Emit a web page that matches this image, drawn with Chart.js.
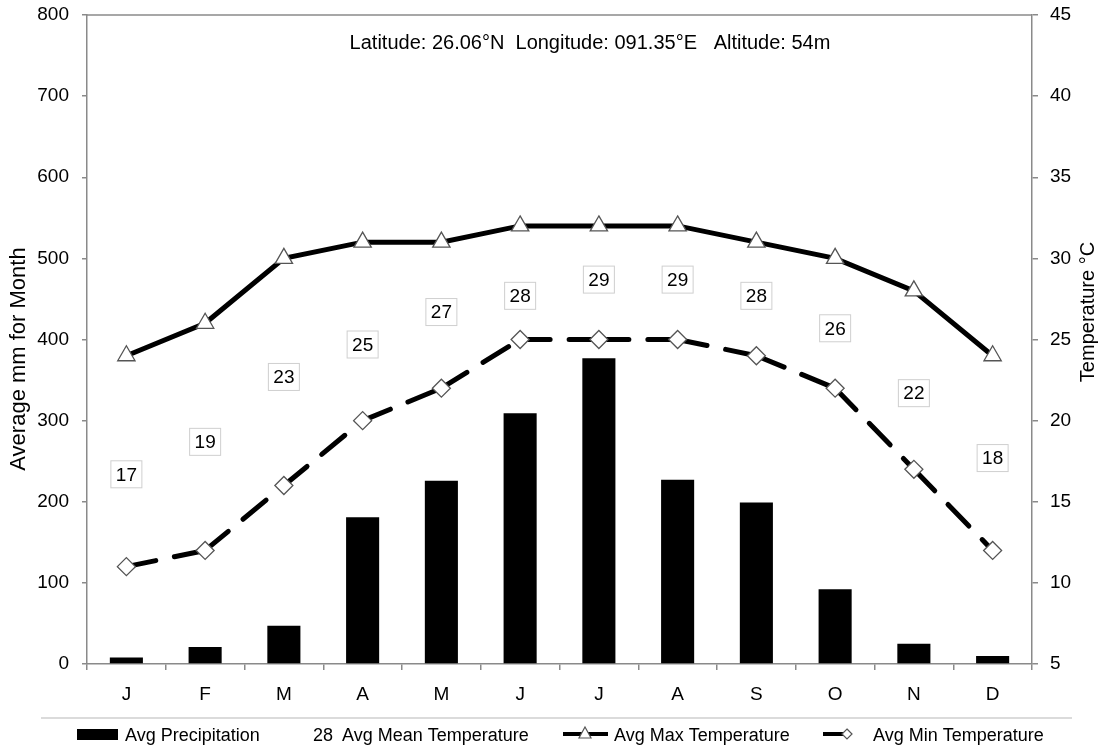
<!DOCTYPE html>
<html>
<head>
<meta charset="utf-8">
<script src="https://cdn.jsdelivr.net/npm/chart.js@4.4.1/dist/chart.umd.min.js"></script>
<style>
  html, body { margin: 0; padding: 0; background: #fff; }
  #wrap { position: relative; width: 1101px; height: 749px; }
</style>
</head>
<body>
<div id="wrap"><canvas id="climate"></canvas></div>
<script>
// ── Data ───────────────────────────────────────────────────
const months = ['J', 'F', 'M', 'A', 'M', 'J', 'J', 'A', 'S', 'O', 'N', 'D'];
const precip = [8, 21, 47, 181, 226, 309, 377, 227, 199, 92, 25, 10];
const maxTemp = [24, 26, 30, 31, 31, 32, 32, 32, 31, 30, 28, 24];
const minTemp = [11, 12, 16, 20, 22, 25, 25, 25, 24, 22, 17, 12];
const meanTemp = [17, 19, 23, 25, 27, 28, 29, 29, 28, 26, 22, 18];
const infoText = 'Latitude: 26.06°N  Longitude: 091.35°E   Altitude: 54m';

const FONT = '"Liberation Sans", Arial, sans-serif';
const AXIS = '#8a8a8a';
Chart.defaults.font.family = FONT;
Chart.defaults.font.size = 19;
Chart.defaults.color = '#000';

// ── Extras drawn on canvas: frame, mean boxes, titles, legend ──
const extras = {
  id: 'extras',
  beforeDatasetsDraw(chart) {
    const { ctx, chartArea: a } = chart;
    ctx.save();
    ctx.strokeStyle = AXIS;
    ctx.lineWidth = 1.5;
    ctx.beginPath();
    ctx.moveTo(a.left, a.top); ctx.lineTo(a.right, a.top);
    ctx.stroke();
    ctx.restore();
  },
  afterDatasetsDraw(chart) {
    const { ctx } = chart;
    const xs = chart.scales.x, yt = chart.scales.y2;
    ctx.save();
    ctx.textAlign = 'center';
    ctx.textBaseline = 'middle';

    // mean temperature boxes
    ctx.font = '19px ' + FONT;
    meanTemp.forEach((v, i) => {
      const x = xs.getPixelForValue(i);
      const y = yt.getPixelForValue(v) + 5;
      ctx.fillStyle = '#fff';
      ctx.fillRect(x - 16, y - 14, 32, 28);
      ctx.strokeStyle = '#cfcfcf';
      ctx.lineWidth = 1;
      ctx.strokeRect(x - 16 + 0.5, y - 14 + 0.5, 31, 27);
      ctx.fillStyle = '#000';
      ctx.fillText(String(v), x, y + 1);
    });

    // info line
    ctx.font = '20px ' + FONT;
    ctx.fillText(infoText, 590, 43);

    // axis titles
    ctx.save();
    ctx.font = '22px ' + FONT;
    ctx.translate(19, 359);
    ctx.rotate(-Math.PI / 2);
    ctx.fillText('Average mm for Month', 0, 0);
    ctx.restore();
    ctx.save();
    ctx.font = '20px ' + FONT;
    ctx.translate(1088, 312);
    ctx.rotate(-Math.PI / 2);
    ctx.fillText('Temperature °C', 0, 0);
    ctx.restore();

    // legend
    ctx.font = '18px ' + FONT;
    ctx.strokeStyle = '#cfcfcf';
    ctx.lineWidth = 1.5;
    ctx.beginPath();
    ctx.moveTo(41, 718); ctx.lineTo(1072, 718);
    ctx.stroke();

    const ly = 736;
    ctx.textAlign = 'left';
    ctx.fillStyle = '#000';
    ctx.fillRect(77, 729, 41, 11);
    ctx.fillText('Avg Precipitation', 125, ly);
    ctx.fillText('28', 313, ly);
    ctx.fillText('Avg Mean Temperature', 342, ly);

    ctx.strokeStyle = '#000';
    ctx.lineWidth = 4;
    ctx.beginPath(); ctx.moveTo(563, 734); ctx.lineTo(608, 734); ctx.stroke();
    ctx.beginPath();
    ctx.moveTo(585, 727); ctx.lineTo(591, 738); ctx.lineTo(579, 738); ctx.closePath();
    ctx.fillStyle = '#fff'; ctx.fill();
    ctx.strokeStyle = '#555'; ctx.lineWidth = 1.2; ctx.stroke();
    ctx.fillStyle = '#000';
    ctx.fillText('Avg Max Temperature', 614, ly);

    ctx.strokeStyle = '#000';
    ctx.lineWidth = 4;
    ctx.beginPath(); ctx.moveTo(823, 734); ctx.lineTo(845, 734); ctx.stroke();
    ctx.beginPath();
    ctx.moveTo(847, 729); ctx.lineTo(852, 734); ctx.lineTo(847, 739); ctx.lineTo(842, 734); ctx.closePath();
    ctx.fillStyle = '#fff'; ctx.fill();
    ctx.strokeStyle = '#555'; ctx.lineWidth = 1.2; ctx.stroke();
    ctx.fillStyle = '#000';
    ctx.fillText('Avg Min Temperature', 873, ly);
    ctx.restore();
  }
};

// ── Chart ──────────────────────────────────────────────────
new Chart(document.getElementById('climate'), {
  data: {
    labels: months,
    datasets: [
      {
        type: 'line', label: 'Avg Max Temperature', data: maxTemp, yAxisID: 'y2', order: 1,
        borderColor: '#000', borderWidth: 5, tension: 0,
        pointStyle: 'triangle', pointRadius: 10, pointBackgroundColor: '#fff',
        pointBorderColor: '#555', pointBorderWidth: 1.3
      },
      {
        type: 'line', label: 'Avg Min Temperature', data: minTemp, yAxisID: 'y2', order: 2,
        borderColor: '#000', borderWidth: 5, borderDash: [30, 19], borderCapStyle: 'round', tension: 0,
        // restart the dash pattern on every month-to-month segment
        segment: { borderDashOffset: c => c.p0DataIndex * 0.001 },
        pointStyle: 'rectRot', pointRadius: 9, pointBackgroundColor: '#fff',
        pointBorderColor: '#555', pointBorderWidth: 1.3
      },
      {
        type: 'bar', label: 'Avg Precipitation', data: precip, yAxisID: 'y', order: 3,
        backgroundColor: '#000', barPercentage: 0.42, categoryPercentage: 1
      }
    ]
  },
  options: {
    responsive: true, maintainAspectRatio: false, animation: false,
    layout: { padding: { top: 15, left: 0, right: 0, bottom: 0 } },
    plugins: { legend: { display: false }, tooltip: { enabled: false } },
    scales: {
      x: {
        offset: true,
        grid: { display: true, drawOnChartArea: false, offset: true, tickLength: 6, color: AXIS, lineWidth: 1.5 },
        border: { color: AXIS, width: 1.5 },
        ticks: { padding: 13, font: { size: 19 } },
        afterFit(s) { s.height = 85; s.paddingLeft = 0; s.paddingRight = 0; }
      },
      y: {
        position: 'left', min: 0, max: 800,
        grid: { drawOnChartArea: false, tickLength: 5, color: AXIS, lineWidth: 1.5 },
        border: { color: AXIS, width: 1.5 },
        ticks: { stepSize: 100, padding: 13, font: { size: 19 } },
        afterFit(s) { s.width = 87; s.paddingTop = 0; s.paddingBottom = 0; }
      },
      y2: {
        position: 'right', min: 5, max: 45,
        grid: { drawOnChartArea: false, tickLength: 6, color: AXIS, lineWidth: 1.5 },
        border: { color: AXIS, width: 1.5 },
        ticks: { stepSize: 5, padding: 12, font: { size: 19 } },
        afterFit(s) { s.width = 69; s.paddingTop = 0; s.paddingBottom = 0; }
      }
    }
  },
  plugins: [extras]
});
</script>
</body>
</html>
